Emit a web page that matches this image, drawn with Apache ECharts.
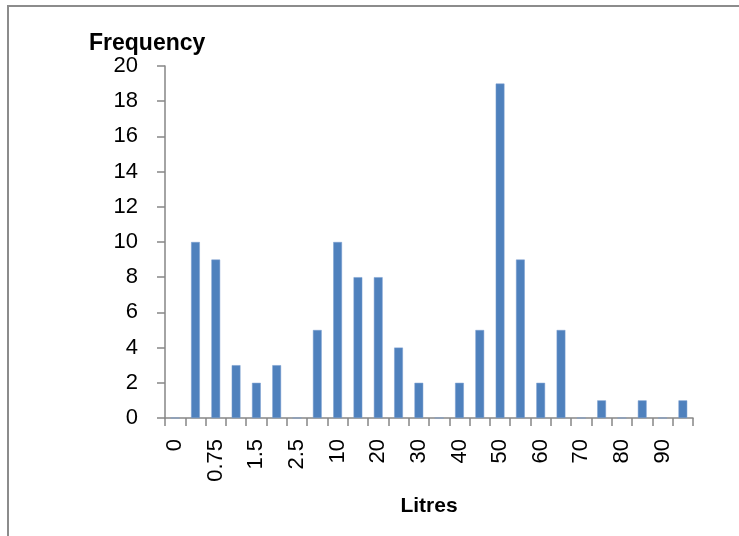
<!DOCTYPE html>
<html>
<head>
<meta charset="utf-8">
<script src="https://cdn.jsdelivr.net/npm/echarts@6/dist/echarts.min.js"></script>
<style>
html,body{margin:0;padding:0;background:#fff;}
#chart{width:739px;height:536px;}
</style>
</head>
<body>
<div id="chart"></div>
<script>
const categories = ['0','0.5','0.75','1','1.5','2','2.5','5','10','15','20','25','30','35','40','45','50','55','60','65','70','75','80','85','90','95'];
const frequency = [0,10,9,3,2,3,0,5,10,8,8,4,2,0,2,5,19,9,2,5,0,1,0,1,0,1];
const yTicks = {min:0, max:20, interval:2};
const xTitle = 'Litres';
const yTitle = 'Frequency';

const FONT = '"Liberation Sans", Arial, sans-serif';
const chart = echarts.init(document.getElementById('chart'), null, {renderer:'canvas'});
chart.setOption({
  animation:false,
  backgroundColor:'#ffffff',
  title:{
    text:yTitle, left:84, top:27,
    textStyle:{fontFamily:FONT, fontWeight:'bold', fontSize:23, color:'#000'}
  },
  graphic:[{
    type:'rect', shape:{x:8, y:6, width:800, height:600},
    style:{fill:'none', stroke:'#8c8c8c', lineWidth:2}, silent:true
  }],
  grid:{left:165, top:66, right:46, bottom:118, containLabel:false},
  xAxis:{
    type:'category', data:categories, boundaryGap:true,
    name:xTitle, nameLocation:'middle', nameGap:78,
    nameTextStyle:{fontFamily:FONT, fontWeight:'bold', fontSize:21, color:'#000'},
    axisLine:{lineStyle:{color:'#868686', width:1.5}},
    axisTick:{show:true, interval:0, length:8, lineStyle:{color:'#868686', width:1.5}},
    axisLabel:{interval:1, rotate:90, margin:21, fontFamily:FONT, fontSize:22, color:'#000'},
    splitLine:{show:false}
  },
  yAxis:{
    type:'value', min:yTicks.min, max:yTicks.max, interval:yTicks.interval,
    axisLine:{show:true, lineStyle:{color:'#868686', width:1.5}},
    axisTick:{show:true, length:8, lineStyle:{color:'#868686', width:1.5}},
    axisLabel:{margin:27, fontFamily:FONT, fontSize:22, color:'#000'},
    splitLine:{show:false}
  },
  series:[{
    type:'bar', data:frequency, barWidth:'43%',
    itemStyle:{color:'#4F81BD', borderColor:'#7a9fd0', borderWidth:0.5}
  }]
});
</script>
</body>
</html>
